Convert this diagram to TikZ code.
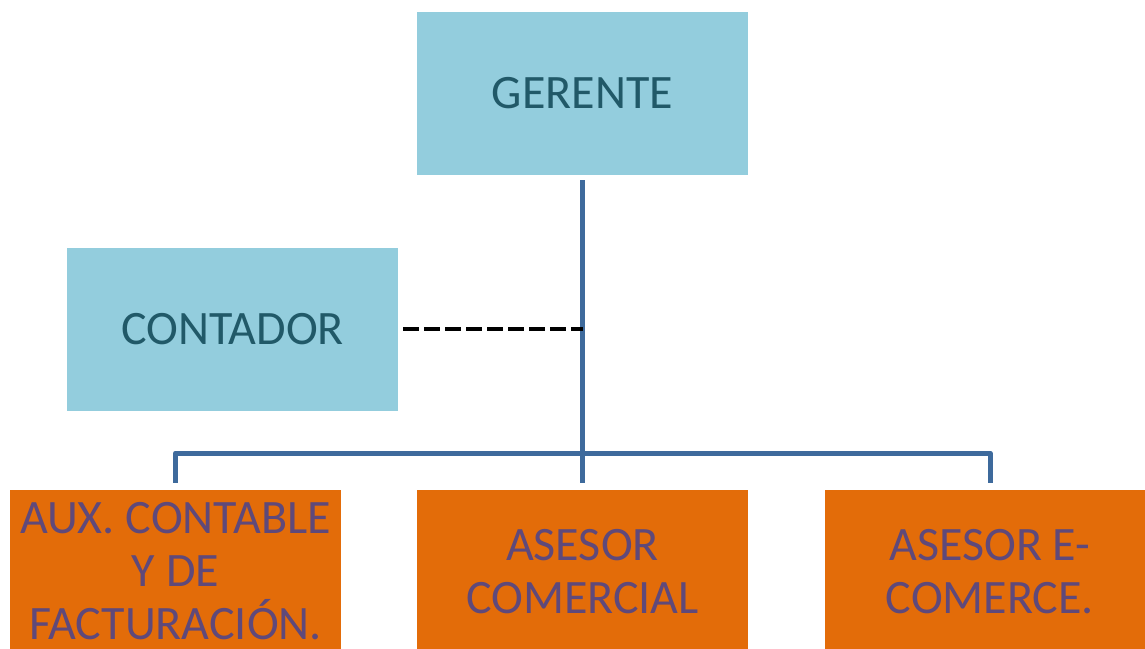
\documentclass[tikz,border=0pt]{standalone}
\usepackage{fontspec}
\setmainfont{Carlito}
\definecolor{boxblue}{HTML}{93CDDD}
\definecolor{boxorange}{HTML}{E36C09}
\definecolor{textteal}{HTML}{215968}
\definecolor{textpurple}{HTML}{5F497A}
\definecolor{linkblue}{HTML}{3E6A9C}
\begin{document}
\begin{tikzpicture}[x=1pt,y=-1pt,
	bluebox/.style={fill=boxblue,text=textteal,minimum width=331pt,minimum height=163pt,inner sep=0pt,align=center,font=\fontsize{48}{53}\selectfont},
	orangebox/.style={bluebox,fill=boxorange,text=textpurple},
	orgline/.style={linkblue,line width=5pt,line join=round},
	dashline/.style={black,line width=3.5pt,dash pattern=on 16pt off 5pt}]

\clip (0,0) rectangle (1145,648);

% The boxes
\node[bluebox] (gerente) at (582.5,93.5) {GERENTE};
\node[bluebox] (contador) at (232.5,329) {CONTADOR};
\node[orangebox] (aux) at (175.5,571.5) {AUX. CONTABLE\\Y DE\\FACTURACIÓN.};
\node[orangebox] (asesor) at (582.5,571.5) {ASESOR\\COMERCIAL};
\node[orangebox] (ecom) at (990,571.5) {ASESOR E-\\COMERCE.};

% The lines
\coordinate (bar) at (582.5,453);
\draw[orgline,shorten <=5pt,shorten >=7pt] (gerente) -- (asesor);
\draw[orgline,shorten <=7pt,shorten >=7pt] (aux.north) |- (bar) -| (ecom.north);
\draw[dashline,shorten <=5pt] (contador.east) -- (contador.east -| gerente.south);

\end{tikzpicture}
\end{document}
